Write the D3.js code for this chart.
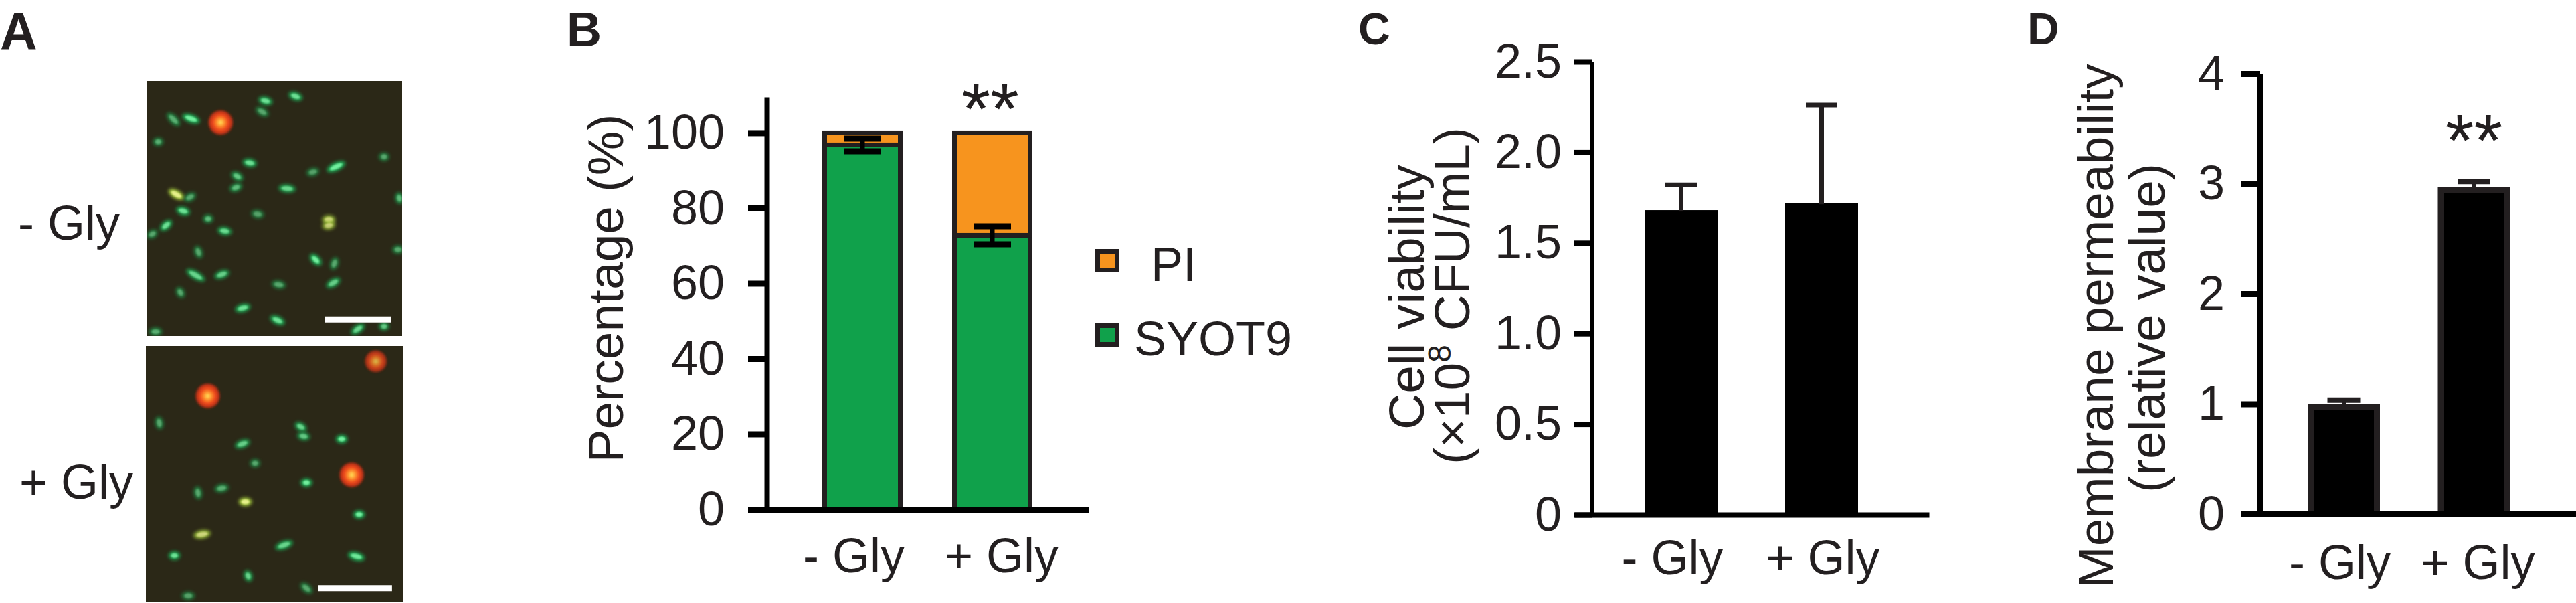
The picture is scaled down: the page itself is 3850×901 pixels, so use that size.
<!DOCTYPE html>
<html>
<head>
<meta charset="utf-8">
<script src="https://cdn.jsdelivr.net/npm/d3@7"></script>
<style>
  html, body { margin: 0; padding: 0; background: #fff; }
  svg { display: block; }
</style>
</head>
<body>
<svg id="fig" width="3850" height="901"></svg>
<script>
// ---------------- DATA ----------------
const panelLetters = ["A", "B", "C", "D"];
const groups = ["- Gly", "+ Gly"];
const micrographLabels = ["- Gly", "+ Gly"];

// Panel B: stacked percentages
const stackKeys = ["SYOT9", "PI"];
const legendLabels = ["PI", "SYOT9"];
const syot9Pct = [96.8, 72.8];
const piPct = [3.2, 27.2];
const syot9Err = [1.7, 2.4];
const pctTicks = [0, 20, 40, 60, 80, 100];

// Panel C: cell viability (x10^8 CFU/mL)
const viability = [1.68, 1.72];
const viabilityErr = [0.14, 0.54];
const viabilityTicks = [0, 0.5, 1.0, 1.5, 2.0, 2.5];

// Panel D: membrane permeability (relative value)
const permeability = [1.0, 2.97];
const permeabilityErr = [0.035, 0.05];
const permTicks = [0, 1, 2, 3, 4];

const significanceB = ["", "**"];
const significanceD = ["", "**"];

// Panel A micrographs: [x, y (fraction of image), angle, half-length, brightness, kind]
const cellsMinusGly = [
  [0.172,0.148,20,11,1,"g"],[0.103,0.151,45,10,0.5,"g"],[0.464,0.078,15,8,0.9,"g"],
  [0.582,0.060,20,8,0.9,"g"],[0.451,0.121,30,8,0.45,"g"],[0.043,0.238,0,5,0.5,"g"],
  [0.402,0.321,10,8,0.9,"g"],[0.741,0.336,-25,12,1,"g"],[0.929,0.297,0,5,0.45,"g"],
  [0.353,0.374,30,7,0.7,"g"],[0.348,0.418,-20,7,0.6,"g"],[0.650,0.357,-15,7,0.4,"g"],
  [0.549,0.422,5,10,0.8,"g"],[0.114,0.445,30,10,1,"y"],[0.168,0.456,-30,7,0.45,"g"],
  [0.141,0.510,15,8,0.9,"g"],[0.433,0.522,10,7,0.4,"g"],[0.712,0.543,0,7,0.8,"y"],
  [0.712,0.566,-10,7,0.7,"y"],[0.074,0.566,-40,8,0.9,"g"],[0.239,0.540,0,5,0.6,"g"],
  [0.304,0.588,10,8,0.85,"g"],[0.020,0.600,-30,6,0.45,"g"],[0.989,0.460,80,6,0.6,"g"],
  [0.201,0.671,70,7,0.45,"g"],[0.661,0.701,45,8,1,"g"],[0.734,0.716,-70,7,0.45,"g"],
  [0.984,0.661,0,6,0.45,"g"],[0.190,0.762,30,13,0.8,"g"],[0.293,0.759,-20,9,0.75,"g"],
  [0.130,0.830,60,6,0.45,"g"],[0.516,0.799,10,8,0.45,"g"],[0.730,0.792,-30,9,0.75,"g"],
  [0.375,0.890,-15,9,0.9,"g"],[0.511,0.938,25,9,0.9,"g"],[0.826,0.973,-35,9,0.8,"g"],
  [0.929,0.962,0,5,0.7,"g"],[0.033,0.983,0,7,0.5,"g"]
];
const cellsPlusGly = [
  [0.052,0.301,80,7,0.45,"g"],[0.376,0.383,-20,9,0.75,"g"],[0.425,0.459,0,5,0.45,"g"],
  [0.603,0.316,30,7,0.8,"g"],[0.614,0.353,10,7,0.7,"g"],[0.762,0.364,0,6,1,"g"],
  [0.295,0.556,-10,8,0.5,"g"],[0.203,0.574,80,7,0.45,"g"],[0.625,0.534,0,6,1,"g"],
  [0.830,0.659,0,6,1,"g"],[0.219,0.737,-10,10,0.8,"y"],[0.538,0.779,-20,11,0.8,"g"],
  [0.111,0.820,0,6,0.9,"g"],[0.819,0.823,15,10,0.95,"g"],[0.398,0.899,70,6,0.8,"g"],
  [0.625,0.947,40,8,0.45,"g"],[0.165,0.977,0,7,0.4,"g"],[0.387,0.609,0,7,1,"y"]
];
// PI-stained (red) cells: [x, y, intensity]
const redMinusGly = [[0.288, 0.163, 1]];
const redPlusGly = [[0.241, 0.195, 1], [0.895, 0.060, 0.6], [0.801, 0.504, 1]];
// scale bars: [x start, x end, y] as fractions
const scaleBarMinusGly = [[0.698, 0.957, 0.935]];
const scaleBarPlusGly = [[0.671, 0.958, 0.947]];

// ---------------- SETUP ----------------
const INK = "#231f20";
const FONT = "'Liberation Sans', Arial, Helvetica, sans-serif";
const GREEN = "#10a14b";
const ORANGE = "#f7941e";

const svg = d3.select("#fig");
svg.append("rect").attr("width", 3850).attr("height", 901).attr("fill", "#fff");

const defs = svg.append("defs");
defs.append("filter").attr("id", "glow").attr("x", "-100%").attr("y", "-100%")
  .attr("width", "300%").attr("height", "300%")
  .append("feGaussianBlur").attr("stdDeviation", 2.6);
defs.append("filter").attr("id", "soft").attr("x", "-100%").attr("y", "-100%")
  .attr("width", "300%").attr("height", "300%")
  .append("feGaussianBlur").attr("stdDeviation", 1.3);
defs.append("filter").attr("id", "blob").attr("x", "-100%").attr("y", "-100%")
  .attr("width", "300%").attr("height", "300%")
  .append("feGaussianBlur").attr("stdDeviation", 1.8);
const rg = defs.append("radialGradient").attr("id", "redGrad");
rg.append("stop").attr("offset", "0%").attr("stop-color", "#ffe860");
rg.append("stop").attr("offset", "25%").attr("stop-color", "#ff9a30");
rg.append("stop").attr("offset", "55%").attr("stop-color", "#f04a1c");
rg.append("stop").attr("offset", "82%").attr("stop-color", "#d83418").attr("stop-opacity", 0.85);
rg.append("stop").attr("offset", "100%").attr("stop-color", "#a02010").attr("stop-opacity", 0);

function bandFor(c0, step, bw) {
  const pi = 1 - bw / step;
  return d3.scaleBand().domain(groups)
    .range([c0 - step / 2, c0 + 1.5 * step])
    .paddingInner(pi).paddingOuter(pi / 2);
}

function styleAxis(g, domainW, tickW, fs) {
  g.select(".domain").attr("stroke", "#000").attr("stroke-width", domainW);
  g.selectAll(".tick line").attr("stroke", "#000").attr("stroke-width", tickW);
  g.selectAll(".tick text").attr("fill", INK).attr("font-size", fs)
    .attr("font-family", FONT);
}

function xAxisLine(x0, x1, y, w) {
  const s = d3.scaleLinear().range([x0, x1]);
  const g = svg.append("g").attr("transform", `translate(0,${y})`)
    .call(d3.axisBottom(s).tickValues([]).tickSizeOuter(0));
  g.select(".domain").attr("stroke", "#000").attr("stroke-width", w);
}

function catLabels(x, dxs, y) {
  svg.append("g").selectAll("text").data(groups).join("text")
    .attr("x", (d, i) => x(d) + x.bandwidth() / 2 + dxs[i])
    .attr("y", y)
    .attr("text-anchor", "middle")
    .attr("font-family", FONT).attr("font-size", 72).attr("fill", INK)
    .text(d => d);
}

// ---------------- PANEL LETTERS ----------------
const letterPos = [[0, 74, 77], [847, 69, 72], [2030, 66, 66], [3030, 66, 66]];
svg.append("g").selectAll("text").data(panelLetters).join("text")
  .attr("x", (d, i) => letterPos[i][0]).attr("y", (d, i) => letterPos[i][1])
  .attr("font-size", (d, i) => letterPos[i][2])
  .attr("font-family", FONT).attr("font-weight", "bold").attr("fill", INK)
  .text(d => d);

// ---------------- PANEL A ----------------
function micrograph(box, cells, reds, bars, id) {
  const sx = d3.scaleLinear().domain([0, 1]).range([box.x, box.x + box.w]);
  const sy = d3.scaleLinear().domain([0, 1]).range([box.y, box.y + box.h]);
  defs.append("clipPath").attr("id", id).append("rect")
    .attr("x", box.x).attr("y", box.y).attr("width", box.w).attr("height", box.h);
  const g = svg.append("g").attr("clip-path", `url(#${id})`);
  g.append("rect").attr("x", box.x).attr("y", box.y).attr("width", box.w).attr("height", box.h)
    .attr("fill", "#2b2817");
  const cg = g.append("g");
  const cell = cg.selectAll("g").data(cells).join("g")
    .attr("transform", d => `translate(${sx(d[0])},${sy(d[1])}) rotate(${d[2]})`)
    .attr("opacity", d => 0.35 + 0.65 * d[4]);
  cell.append("ellipse").attr("rx", d => d[3] + 3).attr("ry", 6.5)
    .attr("fill", d => d[5] === "y" ? "#9fc43a" : "#1fa552").attr("filter", "url(#glow)");
  cell.append("ellipse").attr("rx", d => d[3] * 0.85).attr("ry", 3.6)
    .attr("fill", d => d[5] === "y" ? "#e6f08a" : "#72ee9e").attr("filter", "url(#soft)");
  g.append("g").selectAll("circle").data(reds).join("circle")
    .attr("cx", d => sx(d[0])).attr("cy", d => sy(d[1]))
    .attr("r", d => 15 + 5 * d[2])
    .attr("fill", "url(#redGrad)")
    .attr("filter", "url(#blob)")
    .attr("opacity", d => 0.55 + 0.45 * d[2]);
  g.append("g").selectAll("rect").data(bars).join("rect")
    .attr("x", d => sx(d[0])).attr("width", d => sx(d[1]) - sx(d[0]))
    .attr("y", d => sy(d[2]) - 4.5).attr("height", 9)
    .attr("fill", "#ffffff");
}
micrograph({ x: 220, y: 121, w: 381, h: 381 }, cellsMinusGly, redMinusGly, scaleBarMinusGly, "clipTop");
micrograph({ x: 218, y: 517, w: 384, h: 382 }, cellsPlusGly, redPlusGly, scaleBarPlusGly, "clipBot");

const aLabelPos = [[27, 358], [29, 745]];
svg.append("g").selectAll("text").data(micrographLabels).join("text")
  .attr("x", (d, i) => aLabelPos[i][0]).attr("y", (d, i) => aLabelPos[i][1])
  .attr("font-family", FONT).attr("font-size", 72).attr("fill", INK)
  .text(d => d);

// ---------------- PANEL B ----------------
{
  const x = bandFor(1289, 194, 113);
  const y = d3.scaleLinear().domain([0, 109.5]).range([761, 145]);
  const rows = groups.map((gname, i) => ({ group: gname, SYOT9: syot9Pct[i], PI: piPct[i] }));
  const series = d3.stack().keys(stackKeys)(rows);
  const color = d3.scaleOrdinal().domain(stackKeys).range([GREEN, ORANGE]);

  svg.append("g").selectAll("g").data(series).join("g")
    .attr("fill", d => color(d.key))
    .selectAll("rect").data(d => d).join("rect")
    .attr("x", d => x(d.data.group)).attr("width", x.bandwidth())
    .attr("y", d => y(d[1])).attr("height", d => y(d[0]) - y(d[1]))
    .attr("stroke", INK).attr("stroke-width", 7);

  const ax = svg.append("g").attr("transform", "translate(1146,0)")
    .call(d3.axisLeft(y).tickValues(pctTicks).tickSize(28).tickPadding(35).tickSizeOuter(0)
      .tickFormat(d3.format("d")));
  styleAxis(ax, 8, 9, 72);
  xAxisLine(1118, 1627, 762, 9);

  // error bars
  const eb = svg.append("g").attr("stroke", "#000");
  groups.forEach((gname, i) => {
    const cx = x(gname) + x.bandwidth() / 2;
    const hi = y(syot9Pct[i] + syot9Err[i]), lo = y(syot9Pct[i] - syot9Err[i]);
    eb.append("line").attr("x1", cx).attr("x2", cx).attr("y1", hi).attr("y2", lo).attr("stroke-width", 7);
    [hi, lo].forEach(v => eb.append("line").attr("x1", cx - 28).attr("x2", cx + 28)
      .attr("y1", v).attr("y2", v).attr("stroke-width", 9));
  });

  svg.append("g").selectAll("text").data(significanceB).join("text")
    .attr("x", (d, i) => x(groups[i]) + x.bandwidth() / 2 - 3).attr("y", 200)
    .attr("text-anchor", "middle").attr("font-family", FONT).attr("font-size", 110)
    .attr("fill", INK).text(d => d);

  catLabels(x, [-13, 14], 855);

  svg.append("text").attr("transform", "translate(931,431) rotate(-90)")
    .attr("text-anchor", "middle").attr("font-family", FONT).attr("font-size", 75)
    .attr("fill", INK).text("Percentage (%)");

  // legend
  const lg = svg.append("g").selectAll("g").data(legendLabels).join("g")
    .attr("transform", (d, i) => `translate(1640.5,${375.5 + i * 111})`);
  lg.append("rect").attr("width", 29).attr("height", 28)
    .attr("fill", d => color(d)).attr("stroke", INK).attr("stroke-width", 7);
  lg.append("text").attr("x", (d, i) => i === 0 ? 79.5 : 54.5).attr("y", 44.5)
    .attr("font-family", FONT).attr("font-size", 72).attr("fill", INK).text(d => d);
}

// ---------------- PANEL C ----------------
{
  const x = bandFor(2512.5, 210, 109);
  const y = d3.scaleLinear().domain([0, 2.5]).range([769, 92]);
  svg.append("g").selectAll("rect").data(groups).join("rect")
    .attr("x", d => x(d)).attr("width", x.bandwidth())
    .attr("y", (d, i) => y(viability[i])).attr("height", (d, i) => y(0) - y(viability[i]))
    .attr("fill", "#000");

  const eb = svg.append("g").attr("stroke", INK);
  groups.forEach((gname, i) => {
    const cx = x(gname) + x.bandwidth() / 2;
    const top = y(viability[i] + viabilityErr[i]);
    eb.append("line").attr("x1", cx).attr("x2", cx).attr("y1", y(viability[i]) + 2).attr("y2", top).attr("stroke-width", 7);
    eb.append("line").attr("x1", cx - 23.5).attr("x2", cx + 23.5).attr("y1", top).attr("y2", top).attr("stroke-width", 7);
  });

  const ax = svg.append("g").attr("transform", "translate(2379,0)")
    .call(d3.axisLeft(y).tickValues(viabilityTicks).tickSize(26).tickPadding(19).tickSizeOuter(0)
      .tickFormat(d => d === 0 ? "0" : d3.format(".1f")(d)));
  styleAxis(ax, 7, 8, 72);
  xAxisLine(2353, 2883, 769, 8);

  catLabels(x, [-13, 2], 858);

  const t = svg.append("g").attr("font-family", FONT).attr("font-size", 75).attr("fill", INK)
    .attr("text-anchor", "middle");
  t.append("text").attr("transform", "translate(2128,444) rotate(-90)").text("Cell viability");
  const t2 = t.append("text").attr("transform", "translate(2196,442) rotate(-90)");
  t2.append("tspan").text("(×10");
  t2.append("tspan").attr("font-size", 48).attr("dy", -28).text("8");
  t2.append("tspan").attr("dy", 28).text(" CFU/mL)");
}

// ---------------- PANEL D ----------------
{
  const x = bandFor(3503, 194.5, 99);
  const y = d3.scaleLinear().domain([0, 4]).range([768, 110]);
  svg.append("g").selectAll("rect").data(groups).join("rect")
    .attr("x", d => x(d)).attr("width", x.bandwidth())
    .attr("y", (d, i) => y(permeability[i]) + 4.5).attr("height", (d, i) => y(0) - y(permeability[i]) - 4.5)
    .attr("fill", "#000").attr("stroke", INK).attr("stroke-width", 9);

  const eb = svg.append("g").attr("stroke", INK);
  groups.forEach((gname, i) => {
    const cx = x(gname) + x.bandwidth() / 2;
    const top = y(permeability[i] + permeabilityErr[i]);
    eb.append("line").attr("x1", cx).attr("x2", cx).attr("y1", y(permeability[i]) + 2).attr("y2", top).attr("stroke-width", 6);
    eb.append("line").attr("x1", cx - 24.5).attr("x2", cx + 24.5).attr("y1", top).attr("y2", top).attr("stroke-width", 8);
  });

  const ax = svg.append("g").attr("transform", "translate(3377,0)")
    .call(d3.axisLeft(y).tickValues(permTicks).tickSize(27).tickPadding(25).tickSizeOuter(0)
      .tickFormat(d3.format("d")));
  styleAxis(ax, 9, 9, 72);
  xAxisLine(3350, 3850, 768, 9);

  svg.append("g").selectAll("text").data(significanceD).join("text")
    .attr("x", (d, i) => x(groups[i]) + x.bandwidth() / 2).attr("y", 247)
    .attr("text-anchor", "middle").attr("font-family", FONT).attr("font-size", 110)
    .attr("fill", INK).text(d => d);

  catLabels(x, [-6, 6], 865);

  const t = svg.append("g").attr("font-family", FONT).attr("font-size", 75).attr("fill", INK)
    .attr("text-anchor", "middle");
  t.append("text").attr("transform", "translate(3158,487) rotate(-90)").text("Membrane permeability");
  t.append("text").attr("transform", "translate(3235,490) rotate(-90)").text("(relative value)");
}
</script>
</body>
</html>
